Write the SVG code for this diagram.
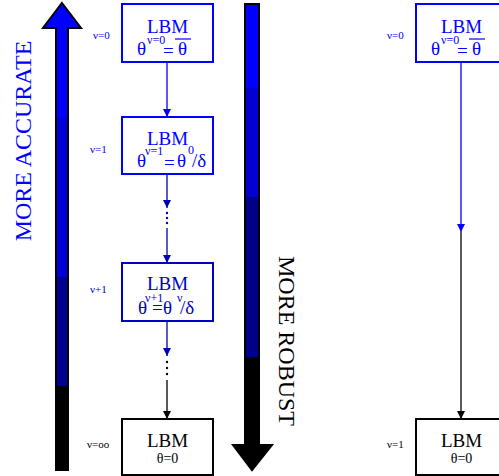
<svg xmlns="http://www.w3.org/2000/svg" width="499" height="476" viewBox="0 0 499 476">
<defs>
<linearGradient id="gl" gradientUnits="userSpaceOnUse" x1="0" y1="0" x2="0" y2="476">
<stop offset="0" stop-color="#0000ff"/><stop offset="0.248" stop-color="#0000ff"/>
<stop offset="0.248" stop-color="#0000d8"/><stop offset="0.582" stop-color="#0000d8"/>
<stop offset="0.582" stop-color="#000090"/><stop offset="0.811" stop-color="#000090"/>
<stop offset="0.811" stop-color="#000"/><stop offset="1" stop-color="#000"/>
</linearGradient>
<linearGradient id="gr" gradientUnits="userSpaceOnUse" x1="0" y1="0" x2="0" y2="476">
<stop offset="0" stop-color="#0000ff"/><stop offset="0.185" stop-color="#0000ff"/>
<stop offset="0.185" stop-color="#0000d0"/><stop offset="0.414" stop-color="#0000d0"/>
<stop offset="0.414" stop-color="#000088"/><stop offset="0.75" stop-color="#000088"/>
<stop offset="0.75" stop-color="#000"/><stop offset="1" stop-color="#000"/>
</linearGradient>
<marker id="ab" viewBox="0 0 8 10" refX="8" refY="5" markerUnits="userSpaceOnUse" markerWidth="8" markerHeight="10" orient="auto"><path d="M0,1 L8,5 L0,9 Z" fill="#0000ff"/></marker>
<marker id="ad" viewBox="0 0 8 10" refX="8" refY="5" markerUnits="userSpaceOnUse" markerWidth="8" markerHeight="10" orient="auto"><path d="M0,1 L8,5 L0,9 Z" fill="#0000b0"/></marker>
<marker id="ak" viewBox="0 0 8 10" refX="8" refY="5" markerUnits="userSpaceOnUse" markerWidth="8" markerHeight="10" orient="auto"><path d="M0,1 L8,5 L0,9 Z" fill="#000"/></marker>
</defs>

<g id="arrow-accurate">
<polygon points="62,3 81,28 68,28 68,470 56,470 56,28 43,28" fill="url(#gl)" stroke="#000" stroke-width="2"/>
<text font-family="Liberation Serif" font-size="24" fill="#0000ff" transform="translate(31,141) rotate(-90)" text-anchor="middle">MORE ACCURATE</text>
</g>
<g id="arrow-robust">
<polygon points="245,4 259,4 259,445 272,445 252,470 233,445 245,445" fill="url(#gr)" stroke="#000" stroke-width="2"/>
<text font-family="Liberation Serif" font-size="24" fill="#000" transform="translate(279,341) rotate(90)" text-anchor="middle">MORE ROBUST</text>
</g>

<g id="connectors" fill="none" stroke-width="1.3">
<line x1="167" y1="62" x2="167" y2="117" stroke="#0000ff" marker-end="url(#ab)"/>
<line x1="167" y1="174" x2="167" y2="208" stroke="#0000b0" marker-end="url(#ad)"/>
<line x1="167" y1="228" x2="167" y2="263" stroke="#0000b0" marker-end="url(#ad)"/>
<line x1="167" y1="321" x2="167" y2="356" stroke="#0000a0" marker-end="url(#ad)"/>
<line x1="167" y1="380" x2="167" y2="419" stroke="#000" marker-end="url(#ak)"/>
<line x1="461" y1="62" x2="461" y2="232" stroke="#0000ff" marker-end="url(#ab)"/>
<line x1="461" y1="232" x2="461" y2="419" stroke="#000" marker-end="url(#ak)"/>
<g stroke="none">
<circle cx="167" cy="213" r="1.2" fill="#0000b0"/><circle cx="167" cy="218" r="1.2" fill="#0000b0"/><circle cx="167" cy="223" r="1.2" fill="#0000b0"/>
<circle cx="167" cy="362" r="1.2" fill="#000"/><circle cx="167" cy="368" r="1.2" fill="#000"/><circle cx="167" cy="374" r="1.2" fill="#000"/>
</g>
</g>

<g id="node-v0" fill="#0000ff">
<rect x="122" y="4" width="91" height="58" fill="#fff" stroke="#0000ff" stroke-width="2"/>
<text font-family="Liberation Serif" font-size="19" text-anchor="middle" x="167.5" y="33">LBM</text>
<text font-family="Liberation Serif" x="137" y="55" font-size="19">θ<tspan font-size="12" x="147" y="44">ν=0</tspan><tspan x="163" y="57">=</tspan><tspan x="178" y="55">θ</tspan></text>
<line x1="175" y1="39" x2="191" y2="39" stroke="#0000ff" stroke-width="1.2"/>
<text font-family="Liberation Serif" font-size="11" x="93" y="39">ν=0</text>
</g>

<g id="node-v1" fill="#0000ff">
<rect x="122" y="117" width="91" height="57" fill="#fff" stroke="#0000ff" stroke-width="2"/>
<text font-family="Liberation Serif" font-size="19" text-anchor="middle" x="167.5" y="145">LBM</text>
<text font-family="Liberation Serif" x="137" y="167" font-size="19">θ<tspan font-size="12" x="145" y="155">ν=1</tspan><tspan x="164" y="169">=</tspan><tspan x="177" y="167">θ</tspan><tspan font-size="12" x="188" y="154">0</tspan><tspan x="192" y="167">/δ</tspan></text>
<text font-family="Liberation Serif" font-size="11" x="90" y="153">ν=1</text>
</g>

<g id="node-vp1" fill="#0000c0">
<rect x="122" y="263" width="91" height="58" fill="#fff" stroke="#0000c0" stroke-width="2"/>
<text font-family="Liberation Serif" font-size="19" text-anchor="middle" x="167.5" y="290">LBM</text>
<text font-family="Liberation Serif" x="138" y="314" font-size="19">θ<tspan font-size="12" x="145" y="302">ν+1</tspan><tspan x="152" y="314">=</tspan><tspan x="163" y="314">θ</tspan><tspan font-size="12" x="177" y="302">ν</tspan><tspan x="180" y="314">/δ</tspan></text>
<text font-family="Liberation Serif" font-size="11" x="90" y="293">ν+1</text>
</g>

<g id="node-vinf" fill="#000">
<rect x="122" y="419" width="91" height="56" fill="#fff" stroke="#000" stroke-width="2"/>
<text font-family="Liberation Serif" font-size="19" text-anchor="middle" x="167.5" y="447">LBM</text>
<text font-family="Liberation Serif" x="167.5" y="463" font-size="14" text-anchor="middle">θ=0</text>
<text font-family="Liberation Serif" font-size="11" x="87" y="448">ν=oo</text>
</g>

<g id="node-r0" fill="#0000ff">
<rect x="416" y="4" width="91" height="58" fill="#fff" stroke="#0000ff" stroke-width="2"/>
<text font-family="Liberation Serif" font-size="19" text-anchor="middle" x="461.5" y="33">LBM</text>
<text font-family="Liberation Serif" x="431" y="55" font-size="19">θ<tspan font-size="12" x="441" y="44">ν=0</tspan><tspan x="457" y="57">=</tspan><tspan x="472" y="55">θ</tspan></text>
<line x1="469" y1="39" x2="485" y2="39" stroke="#0000ff" stroke-width="1.2"/>
<text font-family="Liberation Serif" font-size="11" x="387" y="39">ν=0</text>
</g>

<g id="node-r1" fill="#000">
<rect x="416" y="419" width="91" height="56" fill="#fff" stroke="#000" stroke-width="2"/>
<text font-family="Liberation Serif" font-size="19" text-anchor="middle" x="461.5" y="447">LBM</text>
<text font-family="Liberation Serif" x="461.5" y="463" font-size="14" text-anchor="middle">θ=0</text>
<text font-family="Liberation Serif" font-size="11" x="387" y="448">ν=1</text>
</g>
</svg>
